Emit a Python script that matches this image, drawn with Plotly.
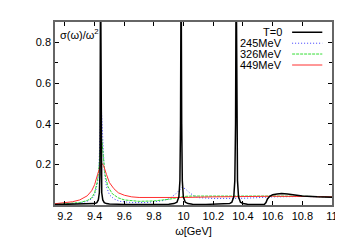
import plotly.graph_objects as go

# ---- data ----
w_T0 = [9.13, 9.30, 9.38, 9.40, 9.415, 9.425, 9.432, 9.436, 9.440, 9.444, 9.448, 9.455, 9.465, 9.48, 9.50,
        9.60, 9.80, 9.90, 9.935, 9.955, 9.968, 9.975, 9.979, 9.983, 9.987, 9.991, 9.998, 10.011, 10.03, 10.06,
        10.15, 10.28, 10.31, 10.325, 10.338, 10.345, 10.350, 10.354, 10.358, 10.363, 10.370, 10.383, 10.40, 10.43,
        10.50, 10.545, 10.555, 10.565, 10.58, 10.60, 10.63, 10.66, 10.70, 10.75, 10.80, 10.90, 11.0]
s_T0 = [0.002, 0.003, 0.005, 0.007, 0.012, 0.025, 0.06, 0.15, 1.2, 0.15, 0.06, 0.025, 0.012, 0.007, 0.005,
        0.003, 0.003, 0.004, 0.007, 0.014, 0.04, 0.12, 0.4, 1.2, 0.4, 0.12, 0.04, 0.014, 0.007, 0.004,
        0.003, 0.004, 0.007, 0.014, 0.04, 0.12, 0.4, 1.2, 0.4, 0.12, 0.04, 0.014, 0.007, 0.004,
        0.003, 0.004, 0.012, 0.03, 0.043, 0.05, 0.054, 0.056, 0.054, 0.048, 0.044, 0.040, 0.038]

w_245 = [9.13, 9.25, 9.30, 9.35, 9.38, 9.40, 9.42, 9.43, 9.438, 9.443, 9.448, 9.455, 9.465, 9.48, 9.50, 9.53,
         9.57, 9.65, 9.75, 9.85, 9.90, 9.94, 9.97, 9.99, 10.01, 10.04, 10.07, 10.10, 10.20, 10.30, 10.40, 10.50,
         10.60, 10.80, 11.0]
s_245 = [0.002, 0.006, 0.010, 0.018, 0.030, 0.050, 0.11, 0.20, 0.40, 0.50, 0.44, 0.30, 0.17, 0.09, 0.05, 0.03,
         0.018, 0.012, 0.012, 0.020, 0.030, 0.050, 0.075, 0.087, 0.080, 0.060, 0.045, 0.036, 0.032, 0.032, 0.033, 0.036,
         0.040, 0.042, 0.040]

w_326 = [9.13, 9.25, 9.30, 9.35, 9.38, 9.40, 9.42, 9.43, 9.44, 9.445, 9.45, 9.46, 9.47, 9.49, 9.52, 9.56,
         9.60, 9.70, 9.80, 9.90, 9.95, 10.0, 10.05, 10.20, 10.40, 10.60, 10.80, 11.0]
s_326 = [0.003, 0.008, 0.012, 0.022, 0.035, 0.060, 0.12, 0.19, 0.30, 0.34, 0.31, 0.22, 0.15, 0.09, 0.055, 0.035,
         0.025, 0.018, 0.020, 0.028, 0.036, 0.042, 0.044, 0.045, 0.044, 0.044, 0.043, 0.040]

w_449 = [9.13, 9.20, 9.25, 9.30, 9.35, 9.38, 9.40, 9.42, 9.44, 9.45, 9.46, 9.48, 9.50, 9.53, 9.56, 9.60,
         9.65, 9.70, 9.80, 9.90, 10.0, 10.2, 10.4, 10.6, 10.8, 11.0]
s_449 = [0.006, 0.010, 0.016, 0.025, 0.045, 0.070, 0.10, 0.15, 0.195, 0.204, 0.195, 0.15, 0.11, 0.08, 0.06, 0.048,
         0.040, 0.037, 0.036, 0.036, 0.037, 0.040, 0.042, 0.043, 0.042, 0.040]

series_names = ["T=0", "245MeV", "326MeV", "449MeV"]
series_colors = ["#000000", "#3b3bff", "#33dd33", "#ff3030"]
series_dash = ["solid", "1px,2px", "3px,1px", "solid"]
series_width = [1.5, 1, 1, 1]

x_ticks = [9.2, 9.4, 9.6, 9.8, 10.0, 10.2, 10.4, 10.6, 10.8, 11.0]
x_ticklabels = ["9.2", "9.4", "9.6", "9.8", "10", "10.2", "10.4", "10.6", "10.8", "11"]
y_ticks = [0.2, 0.4, 0.6, 0.8]
y_ticklabels = ["0.2", "0.4", "0.6", "0.8"]

FONT = "Liberation Sans, Arial, sans-serif"

fig = go.Figure()
data = [(w_T0, s_T0), (w_245, s_245), (w_326, s_326), (w_449, s_449)]
order = [1, 2, 3, 0]
for i in order:
    w, s = data[i]
    fig.add_trace(go.Scatter(x=w, y=s, mode="lines", name=series_names[i], showlegend=False,
                             line=dict(color=series_colors[i], width=series_width[i], dash=series_dash[i])))

# manual gnuplot-style legend (text right-aligned, sample on the right)
leg_y = [0.944, 0.884, 0.825, 0.765]
for i, name in enumerate(series_names):
    fig.add_annotation(xref="paper", yref="paper", x=0.828, y=leg_y[i], text=name, showarrow=False,
                       xanchor="right", yanchor="middle", font=dict(family=FONT, size=11, color="black"))
    fig.add_shape(type="line", xref="paper", yref="paper", x0=0.856, x1=0.965, y0=leg_y[i], y1=leg_y[i],
                  line=dict(color=series_colors[i], width=series_width[i], dash=series_dash[i]))

fig.add_annotation(xref="paper", yref="paper", x=0.012, y=0.985, text="σ(ω)/ω<sup>2</sup>", showarrow=False,
                   xanchor="left", yanchor="top", font=dict(family=FONT, size=11, color="black"))

fig.update_layout(
    width=343, height=240,
    margin=dict(l=47, r=19, t=13, b=36),
    paper_bgcolor="white", plot_bgcolor="white",
    font=dict(family=FONT, size=11, color="black"),
    showlegend=False,
)
fig.update_xaxes(range=[9.133, 11.0], tickvals=x_ticks, ticktext=x_ticklabels,
                 ticks="inside", ticklen=4, tickcolor="black", showgrid=False, zeroline=False,
                 showline=True, linecolor="#666", linewidth=1.5, mirror="ticks",
                 title=dict(text="ω[GeV]", font=dict(family=FONT, size=11), standoff=6))
fig.update_yaxes(range=[0, 0.9], tickvals=y_ticks, ticktext=y_ticklabels,
                 ticks="inside", ticklen=4, tickcolor="black", showgrid=False, zeroline=False,
                 showline=True, linecolor="#666", linewidth=1.5, mirror="ticks",
                 minor=dict(tickvals=[0.1, 0.3, 0.5, 0.7], ticks="inside", ticklen=3, tickcolor="black"))

fig.write_html("out.html")
